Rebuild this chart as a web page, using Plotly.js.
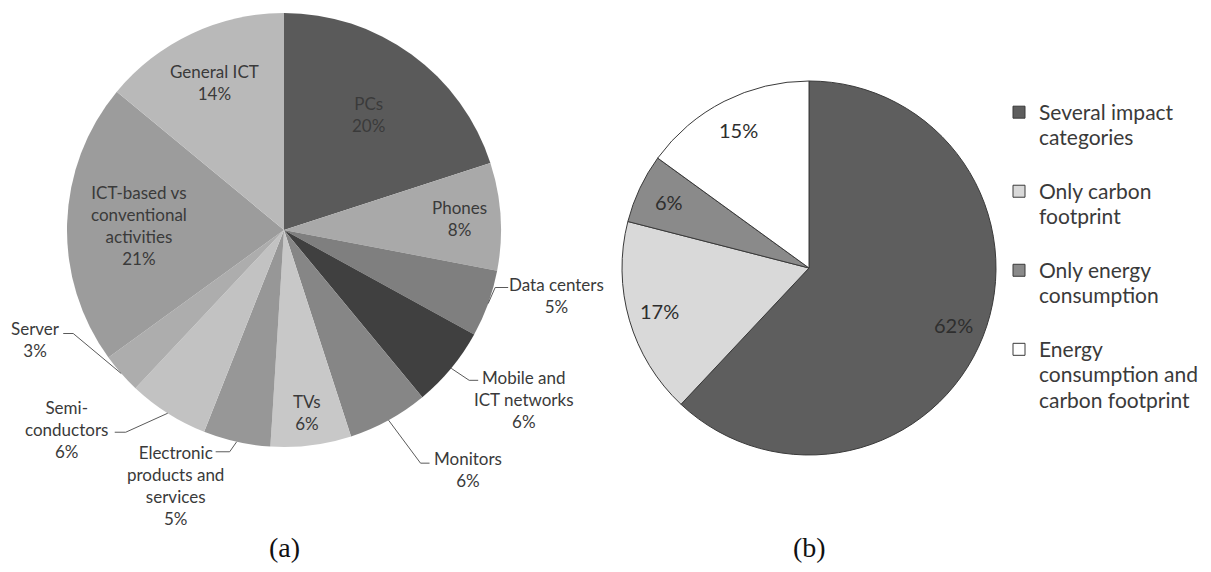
<!DOCTYPE html>
<html>
<head>
<meta charset="utf-8">
<script src="https://cdn.plot.ly/plotly-3.0.1.min.js"></script>
<style>
  html, body { margin: 0; padding: 0; background: #ffffff; }
  #chart { width: 1211px; height: 572px; }
</style>
</head>
<body>
<div id="chart"></div>
<script>
// ---------------- DATA ----------------
// (a) ICT studies by product / topic
const labelsA = ['PCs', 'Phones', 'Data centers', 'Mobile and<br>ICT networks', 'Monitors', 'TVs',
                 'Electronic<br>products and<br>services', 'Semi-<br>conductors', 'Server',
                 'ICT-based vs<br>conventional<br>activities', 'General ICT'];
const valuesA = [20, 8, 5, 6, 6, 6, 5, 6, 3, 21, 14];

// (b) impact categories covered
const labelsB = ['Several impact<br>categories', 'Only carbon<br>footprint', 'Only energy<br>consumption',
                 'Energy<br>consumption and<br>carbon footprint'];
const valuesB = [62, 17, 6, 15];

const captions = ['(a)', '(b)'];

// ---------------- STYLE ----------------
const W = 1211, H = 572;
const colorsA = ['#5a5a5a', '#a9a9a9', '#7f7f7f', '#404040', '#868686', '#c8c8c8',
                 '#979797', '#c2c2c2', '#adadad', '#9c9c9c', '#b9b9b9'];
const colorsB = ['#5e5e5e', '#d9d9d9', '#8a8a8a', '#ffffff'];
const geoA = {cx: 284, cy: 230, r: 217};
const geoB = {cx: 809, cy: 268, r: 187};
// label placement for pie (a): inside at radius fraction, or outside with leader line offsets (px)
const placeA = [
  {rf: 0.66}, {rf: 0.81},
  {elbow: [7, -16], end: [20, -16], text: [68, -8]},
  {elbow: [18, 12], end: [27, 12], text: [73, 31]},
  {elbow: [32, 43], end: [41, 43], text: [79, 49]},
  {rf: 0.85},
  {elbow: [-7, 10], end: [-21, 10], text: [-61, 44]},
  {elbow: [-42, 19], end: [-53, 19], text: [-101, 16]},
  {elbow: [-48, -40], end: [-58, -40], text: [-86, -34]},
  {rf: 0.67}, {rf: 0.75}
];
const rfB = 0.83;
const FONT = 'Lato, "Open Sans", sans-serif';
const TXT = '#3a3a3a';

const px = x => x / W;
const py = y => 1 - y / H;
function domainOf(g) {
  return {x: [(g.cx - g.r) / W, (g.cx + g.r) / W], y: [1 - (g.cy + g.r) / H, 1 - (g.cy - g.r) / H]};
}
function midAngles(vals) {
  const tot = vals.reduce((a, b) => a + b, 0);
  let cum = 0;
  return vals.map(v => { const m = 2 * Math.PI * (cum + v / 2) / tot; cum += v; return m; });
}
function pct(vals, i) {
  const tot = vals.reduce((a, b) => a + b, 0);
  return Math.round(100 * vals[i] / tot) + '%';
}

const annotations = [];
const shapes = [];

// pie (a) labels
midAngles(valuesA).forEach((th, i) => {
  const p = placeA[i];
  const txt = labelsA[i] + '<br>' + pct(valuesA, i);
  const s = Math.sin(th), c = Math.cos(th);
  let tx, ty;
  if (p.rf !== undefined) {
    tx = geoA.cx + p.rf * geoA.r * s;
    ty = geoA.cy - p.rf * geoA.r * c;
  } else {
    const ax = geoA.cx + geoA.r * s, ay = geoA.cy - geoA.r * c;
    tx = ax + p.text[0]; ty = ay + p.text[1];
    shapes.push({
      type: 'path', xref: 'paper', yref: 'paper',
      path: `M ${px(ax)},${py(ay)} L ${px(ax + p.elbow[0])},${py(ay + p.elbow[1])} L ${px(ax + p.end[0])},${py(ay + p.end[1])}`,
      line: {color: '#5a5a5a', width: 1}
    });
  }
  annotations.push({
    xref: 'paper', yref: 'paper', x: px(tx), y: py(ty), xanchor: 'center', yanchor: 'middle',
    text: txt, showarrow: false, align: 'center',
    font: {family: FONT, size: 17, color: TXT}
  });
});

// pie (b) labels
midAngles(valuesB).forEach((th, i) => {
  const tx = geoB.cx + rfB * geoB.r * Math.sin(th);
  const ty = geoB.cy - rfB * geoB.r * Math.cos(th);
  annotations.push({
    xref: 'paper', yref: 'paper', x: px(tx), y: py(ty), xanchor: 'center', yanchor: 'middle',
    text: pct(valuesB, i), showarrow: false,
    font: {family: FONT, size: 20, color: '#2e2e2e'}
  });
});

// captions
[geoA, geoB].forEach((g, i) => {
  annotations.push({
    xref: 'paper', yref: 'paper', x: px(g.cx), y: py(547), xanchor: 'center', yanchor: 'middle',
    text: captions[i], showarrow: false,
    font: {family: '"Liberation Serif", "DejaVu Serif", serif', size: 28, color: '#111111'}
  });
});

const legendLabelsB = labelsB.map(l =>
  l.split('<br>').map(s => '<span style="font-size:21px">' + s + '</span>').join('<br>') + '<br>\u00a0');

const traces = [
  {
    type: 'pie', labels: labelsA, values: valuesA, sort: false, direction: 'clockwise', rotation: 0,
    domain: domainOf(geoA), marker: {colors: colorsA, line: {width: 0}},
    textinfo: 'none', hoverinfo: 'none', showlegend: false
  },
  {
    type: 'pie', labels: legendLabelsB, values: valuesB, sort: false, direction: 'clockwise', rotation: 0,
    domain: domainOf(geoB), marker: {colors: colorsB, line: {color: '#3a3a3a', width: 1}},
    textinfo: 'none', hoverinfo: 'none', showlegend: true
  }
];

const layout = {
  width: W, height: H,
  margin: {l: 0, r: 0, t: 0, b: 0},
  paper_bgcolor: '#ffffff', plot_bgcolor: '#ffffff',
  showlegend: true,
  legend: {
    x: px(999), xanchor: 'left', y: py(93), yanchor: 'top', valign: 'top',
    font: {family: FONT, size: 19.5, color: TXT},
    bgcolor: 'rgba(0,0,0,0)', borderwidth: 0, itemclick: false, itemdoubleclick: false
  },
  annotations: annotations,
  shapes: shapes
};

Plotly.newPlot('chart', traces, layout, {displayModeBar: false, staticPlot: true});
</script>
</body>
</html>
